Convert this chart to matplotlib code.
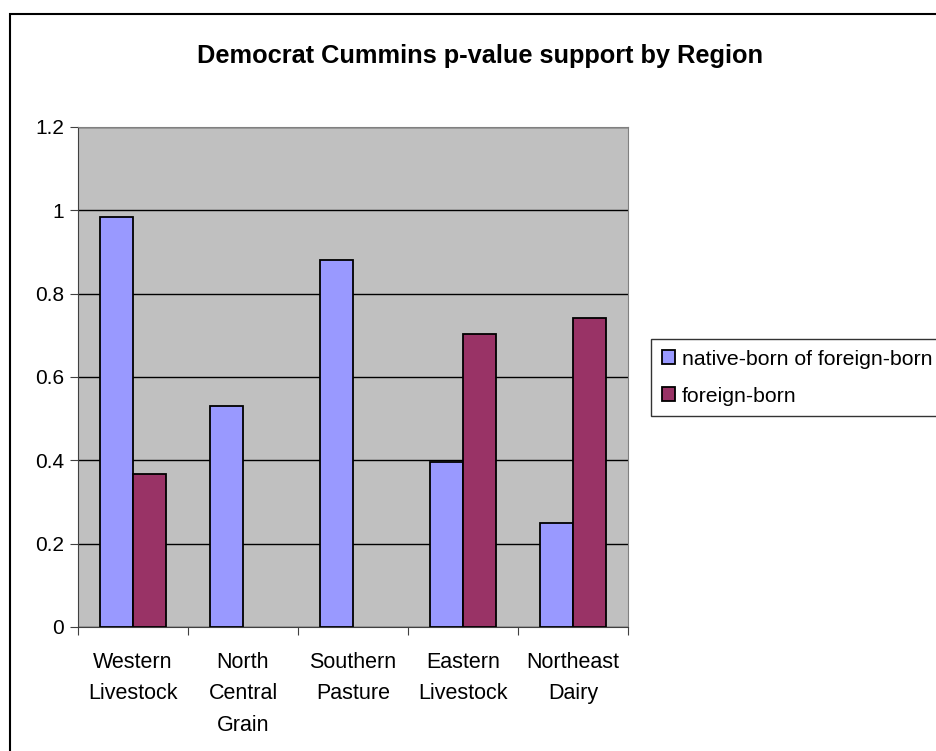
import numpy as np
import matplotlib.pyplot as plt
from matplotlib.patches import Rectangle

plt.rcParams['font.family'] = ['Liberation Sans', 'DejaVu Sans']

# Données
regions = ["Western\nLivestock", "North\nCentral\nGrain", "Southern\nPasture",
           "Eastern\nLivestock", "Northeast\nDairy"]
native_of_foreign = [0.985, 0.531, 0.881, 0.396, 0.250]
foreign_born = [0.368, 0.0, 0.0, 0.704, 0.742]
series_names = ["native-born of foreign-born", "foreign-born"]
yticks = [0, 0.2, 0.4, 0.6, 0.8, 1, 1.2]
ytick_labels = ["0", "0.2", "0.4", "0.6", "0.8", "1", "1.2"]

W, H = 936, 751
fig = plt.figure(figsize=(W / 100, H / 100), dpi=100)
ax = fig.add_axes([78 / W, 124 / H, 550 / W, 500 / H])
ax.set_facecolor('#C0C0C0')

x = np.arange(len(regions)) + 0.5
bw = 0.3
b1 = ax.bar(x - bw / 2, native_of_foreign, bw, color='#9999FF', edgecolor='black',
            linewidth=1.3, zorder=3, label=series_names[0])
fb = [v if v > 0 else np.nan for v in foreign_born]
b2 = ax.bar(x + bw / 2, fb, bw, color='#993366', edgecolor='black',
            linewidth=1.3, zorder=3, label=series_names[1])

ax.set_xlim(0, len(regions))
ax.set_ylim(0, 1.2)
ax.set_yticks(yticks)
ax.set_yticklabels(ytick_labels, fontsize=15)
ax.yaxis.grid(True, color='black', linewidth=1, zorder=1)

# ticks entre les catégories, étiquettes au centre
ax.set_xticks(np.arange(len(regions) + 1))
ax.set_xticklabels([])
ax.set_xticks(x, minor=True)
ax.set_xticklabels(regions, minor=True, fontsize=15.5, linespacing=1.65)
ax.tick_params(axis='x', which='minor', length=0, pad=18)
ax.tick_params(axis='x', which='major', length=6, direction='out', color='#404040')
ax.tick_params(axis='y', length=6, direction='out', pad=4, color='#404040')

for s in ['left', 'bottom']:
    ax.spines[s].set_color('#404040')
for s in ['top', 'right']:
    ax.spines[s].set_color('#808080')

fig.text(480 / W, 1 - 56 / H, "Democrat Cummins p-value support by Region",
         ha='center', va='center', fontsize=18.3, fontweight='bold')

leg = fig.legend(handles=[b1, b2], loc='upper left',
                 bbox_to_anchor=(651 / W, 1 - 339 / H), fontsize=15.3,
                 frameon=True, fancybox=False, edgecolor='black',
                 handlelength=0.65, handleheight=0.65, handletextpad=0.3,
                 borderpad=0.5, labelspacing=0.85, borderaxespad=0)
leg.get_frame().set_linewidth(1)

# bordure du graphique
fig.patches.append(Rectangle((10 / W, -0.1), 1.2, 1 - 14 / H + 0.1, transform=fig.transFigure,
                             fill=False, edgecolor='black', linewidth=1.5))

plt.savefig("out.png", dpi=100)
